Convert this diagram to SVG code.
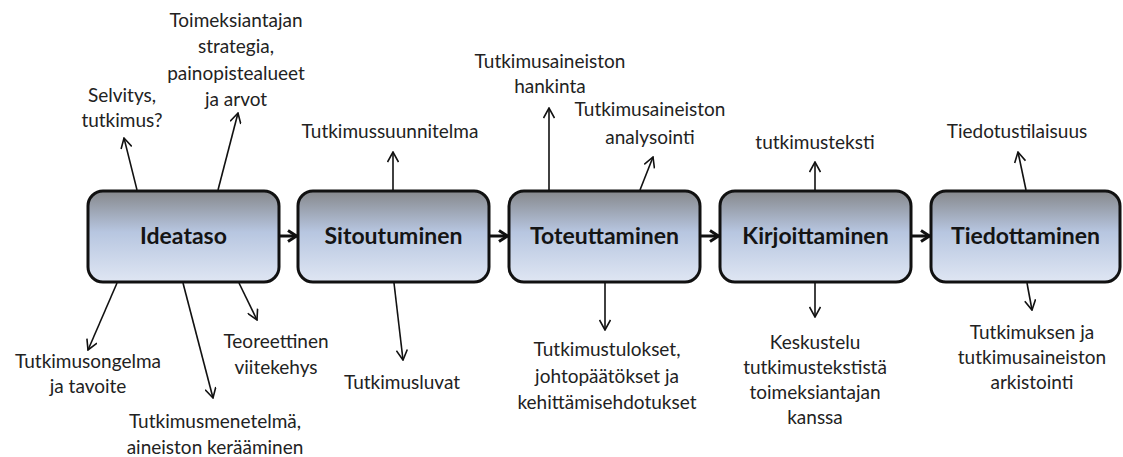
<svg xmlns="http://www.w3.org/2000/svg" width="1123" height="457" viewBox="0 0 1123 457">
  <defs>
    <linearGradient id="boxFill" x1="0" y1="0" x2="0" y2="1">
      <stop offset="0" stop-color="#86888c"/>
      <stop offset="0.45" stop-color="#b7c6e0"/>
      <stop offset="1" stop-color="#dfe6f3"/>
    </linearGradient>
    <marker id="openHead" viewBox="0 0 12 12" refX="11" refY="6" markerWidth="12" markerHeight="12" markerUnits="userSpaceOnUse" orient="auto">
      <path d="M1,0.5 L11,6 L1,11.5" fill="none" stroke="#111" stroke-width="1.6"/>
    </marker>
    <marker id="flowHead" viewBox="0 0 12 14" refX="11" refY="7" markerWidth="12" markerHeight="14" markerUnits="userSpaceOnUse" orient="auto">
      <path d="M2,1.5 L10.5,7 L2,12.5" fill="none" stroke="#111" stroke-width="3"/>
    </marker>
  </defs>
  <style>
    .box { fill: url(#boxFill); stroke: #111; stroke-width: 3; }
    .title { font-family: Lato, "Open Sans", sans-serif; font-weight: bold; font-size: 23px; fill: #141414; text-anchor: middle; }
    .lbl { font-family: Lato, "Open Sans", sans-serif; font-size: 19px; fill: #222; text-anchor: middle; }
    .ln { stroke: #111; stroke-width: 1.6; fill: none; marker-end: url(#openHead); }
    .flow { stroke: #111; stroke-width: 3; fill: none; marker-end: url(#flowHead); }
  </style>

  <rect width="1123" height="457" fill="#ffffff"/>

  <!-- process steps -->
  <g id="ideataso">
    <rect class="box" x="88" y="191" width="191" height="91" rx="15"/>
    <text class="title" x="183.5" y="244">Ideataso</text>
  </g>
  <g id="sitoutuminen">
    <rect class="box" x="298" y="191" width="191" height="91" rx="15"/>
    <text class="title" x="393.5" y="244">Sitoutuminen</text>
  </g>
  <g id="toteuttaminen">
    <rect class="box" x="509" y="191" width="191" height="91" rx="15"/>
    <text class="title" x="604.5" y="244">Toteuttaminen</text>
  </g>
  <g id="kirjoittaminen">
    <rect class="box" x="720" y="191" width="191" height="91" rx="15"/>
    <text class="title" x="815.5" y="244">Kirjoittaminen</text>
  </g>
  <g id="tiedottaminen">
    <rect class="box" x="931" y="191" width="189" height="91" rx="15"/>
    <text class="title" x="1025.5" y="244">Tiedottaminen</text>
  </g>

  <!-- connectors -->
  <g id="connectors">
    <line class="flow" x1="280" y1="236" x2="297" y2="236"/>
    <line class="flow" x1="490" y1="236" x2="508" y2="236"/>
    <line class="flow" x1="701" y1="236" x2="719" y2="236"/>
    <line class="flow" x1="912" y1="236" x2="930" y2="236"/>

    <line class="ln" x1="137" y1="190" x2="124" y2="138"/>
    <line class="ln" x1="218" y1="190" x2="238" y2="113"/>
    <line class="ln" x1="117" y1="283" x2="88" y2="350"/>
    <line class="ln" x1="183" y1="283" x2="213" y2="398"/>
    <line class="ln" x1="239" y1="283" x2="257" y2="320"/>

    <line class="ln" x1="393" y1="190" x2="393" y2="152"/>
    <line class="ln" x1="394" y1="283" x2="403" y2="360"/>

    <line class="ln" x1="549" y1="190" x2="549" y2="108"/>
    <line class="ln" x1="640" y1="190" x2="653" y2="157"/>
    <line class="ln" x1="605" y1="283" x2="605" y2="330"/>

    <line class="ln" x1="815" y1="190" x2="815" y2="162"/>
    <line class="ln" x1="815" y1="283" x2="815" y2="317"/>

    <line class="ln" x1="1026" y1="190" x2="1018" y2="152"/>
    <line class="ln" x1="1027" y1="283" x2="1032" y2="310"/>
  </g>

  <!-- labels -->
  <g id="labels">
    <text class="lbl" x="122" y="102">Selvitys,</text>
    <text class="lbl" x="122" y="127">tutkimus?</text>

    <text class="lbl" x="236" y="27">Toimeksiantajan</text>
    <text class="lbl" x="236" y="53">strategia,</text>
    <text class="lbl" x="236" y="80">painopistealueet</text>
    <text class="lbl" x="236" y="106">ja arvot</text>

    <text class="lbl" x="88" y="368">Tutkimusongelma</text>
    <text class="lbl" x="88" y="393">ja tavoite</text>

    <text class="lbl" x="215" y="428">Tutkimusmenetelmä,</text>
    <text class="lbl" x="215" y="454">aineiston kerääminen</text>

    <text class="lbl" x="276" y="348">Teoreettinen</text>
    <text class="lbl" x="276" y="374">viitekehys</text>

    <text class="lbl" x="390" y="138">Tutkimussuunnitelma</text>
    <text class="lbl" x="402" y="389">Tutkimusluvat</text>

    <text class="lbl" x="550" y="68">Tutkimusaineiston</text>
    <text class="lbl" x="550" y="93">hankinta</text>
    <text class="lbl" x="650" y="116">Tutkimusaineiston</text>
    <text class="lbl" x="650" y="144">analysointi</text>

    <text class="lbl" x="607" y="356">Tutkimustulokset,</text>
    <text class="lbl" x="607" y="383">johtopäätökset ja</text>
    <text class="lbl" x="607" y="409">kehittämisehdotukset</text>

    <text class="lbl" x="815" y="149">tutkimusteksti</text>
    <text class="lbl" x="815" y="349">Keskustelu</text>
    <text class="lbl" x="815" y="374">tutkimustekstistä</text>
    <text class="lbl" x="815" y="399">toimeksiantajan</text>
    <text class="lbl" x="815" y="424">kanssa</text>

    <text class="lbl" x="1017" y="138">Tiedotustilaisuus</text>
    <text class="lbl" x="1032" y="339">Tutkimuksen ja</text>
    <text class="lbl" x="1032" y="364">tutkimusaineiston</text>
    <text class="lbl" x="1032" y="389">arkistointi</text>
  </g>
</svg>
